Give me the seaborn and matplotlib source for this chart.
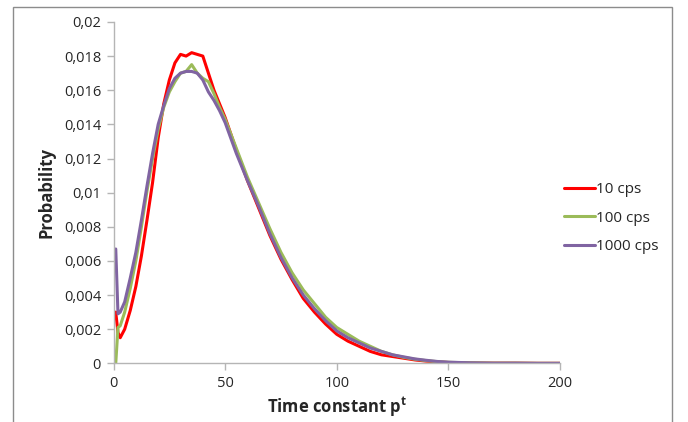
import numpy as np
import pandas as pd
import matplotlib
matplotlib.use("Agg")
import matplotlib.pyplot as plt
from matplotlib.patches import Rectangle
from matplotlib.ticker import FuncFormatter
import seaborn as sns

# values
time_constant = [1, 2, 3, 5, 7.5, 10, 12.5, 15, 17.5, 20, 22.5, 25, 27.5, 30, 32.5, 35,
                 37.5, 40, 42.5, 45, 47.5, 50, 55, 60, 65, 70, 75, 80, 85, 90, 95, 100,
                 105, 110, 115, 120, 125, 130, 135, 140, 145, 150, 160, 170, 180, 190, 200]

p_10cps = [0.0030, 0.0018, 0.0015, 0.0020, 0.0031, 0.0045, 0.0063, 0.0084, 0.0106, 0.0132,
           0.0152, 0.0166, 0.0176, 0.0181, 0.0180, 0.0182, 0.0181, 0.0180, 0.0170, 0.0160,
           0.0152, 0.0144, 0.0125, 0.0107, 0.0091, 0.0075, 0.0061, 0.0049, 0.0038, 0.0030,
           0.0023, 0.0017, 0.0013, 0.0010, 0.0007, 0.0005, 0.0004, 0.0003, 0.0002, 0.00013,
           0.00008, 0.00005, 0.00002, 0.00001, 0.00001, 0.0, 0.0]

p_100cps = [0.0, 0.0021, 0.0022, 0.0030, 0.0044, 0.0060, 0.0080, 0.0101, 0.0120, 0.0137,
            0.0150, 0.0159, 0.0165, 0.0170, 0.0171, 0.0175, 0.0170, 0.0167, 0.0165, 0.0158,
            0.0150, 0.0143, 0.0126, 0.0109, 0.0094, 0.0079, 0.0065, 0.0053, 0.0043, 0.0035,
            0.0027, 0.0021, 0.0017, 0.0013, 0.0010, 0.0007, 0.0005, 0.00035, 0.00024, 0.00016,
            0.0001, 0.00006, 0.00003, 0.00001, 0.00001, 0.0, 0.0]

p_1000cps = [0.0067, 0.0029, 0.0030, 0.0036, 0.0050, 0.0065, 0.0084, 0.0104, 0.0123, 0.0140,
             0.0151, 0.0161, 0.0167, 0.0170, 0.0171, 0.0171, 0.0170, 0.0166, 0.0159, 0.0154,
             0.0148, 0.0141, 0.0123, 0.0107, 0.0092, 0.0076, 0.0062, 0.0050, 0.0040, 0.0032,
             0.0025, 0.0019, 0.0015, 0.0012, 0.0009, 0.0007, 0.0005, 0.00038, 0.00026, 0.00018,
             0.00011, 0.00007, 0.00003, 0.00001, 0.00001, 0.0, 0.0]

series_names = ["10 cps", "100 cps", "1000 cps"]
series_colors = ["#ff0000", "#9bbb59", "#8064a2"]

df = pd.concat([
    pd.DataFrame({"t": time_constant, "p": vals, "rate": name})
    for name, vals in zip(series_names, [p_10cps, p_100cps, p_1000cps])
])

sns.set_style("white")
plt.rcParams["font.family"] = ["Open Sans", "DejaVu Sans"]
plt.rcParams["mathtext.fontset"] = "custom"
plt.rcParams["mathtext.rm"] = "Open Sans"
plt.rcParams["mathtext.bf"] = "Open Sans:bold"

fig = plt.figure(figsize=(6.88, 4.22), dpi=100)
ax = fig.add_axes([0.165, 0.139, 0.649, 0.809])

sns.lineplot(data=df, x="t", y="p", hue="rate", hue_order=series_names,
             palette=series_colors, linewidth=2.2, ax=ax, legend=True)

ax.set_xlim(0, 200)
ax.set_ylim(0, 0.02)
ax.set_xticks(np.arange(0, 201, 50))
ax.set_yticks(np.arange(0, 0.0201, 0.002))
ax.yaxis.set_major_formatter(FuncFormatter(lambda v, _: f"{v:.3f}".rstrip("0").rstrip(".").replace(".", ",") if v else "0"))

sns.despine(ax=ax)
for s in ["left", "bottom"]:
    ax.spines[s].set_color("#b5b5b5")
    ax.spines[s].set_linewidth(1)
ax.tick_params(axis="both", direction="out", length=5, width=1, color="#b5b5b5",
               labelsize=10.5, labelcolor="#262626", pad=4)
ax.tick_params(left=True, bottom=True)

ax.set_xlabel(r"Time constant p$^{\mathbf{t}}$", fontsize=12, fontweight="bold", labelpad=3)
ax.set_ylabel("Probability", fontsize=12, fontweight="bold", labelpad=6)

handles, labels = ax.get_legend_handles_labels()
ax.get_legend().remove()
fig.legend(handles, labels, loc="center left", bbox_to_anchor=(0.800, 0.483),
           frameon=False, fontsize=11, handlelength=2.0, handletextpad=0.1,
           labelspacing=0.9)

# outer chart frame
fig.patches.append(Rectangle((13 / 688, -0.05), (672 - 13) / 688, 1.05 - 7 / 422,
                             transform=fig.transFigure, fill=False,
                             edgecolor="#8c8c8c", linewidth=1))

fig.savefig("out.png", dpi=100)
